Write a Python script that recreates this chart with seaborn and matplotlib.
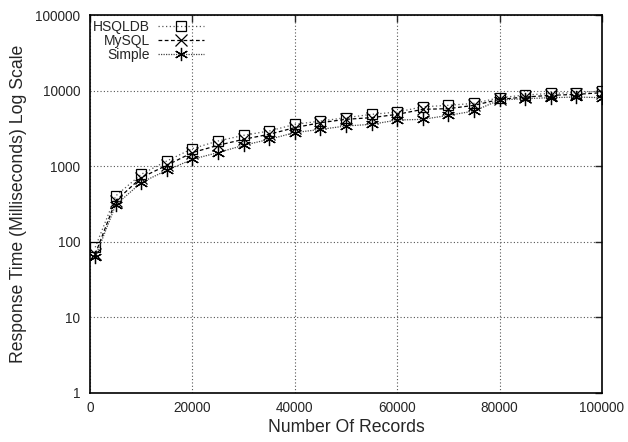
import pandas as pd
import matplotlib
matplotlib.use("Agg")
import matplotlib.pyplot as plt
import seaborn as sns

# Values (log scale, milliseconds)
records = [1000, 5000, 10000, 15000, 20000, 25000, 30000, 35000, 40000, 45000,
           50000, 55000, 60000, 65000, 70000, 75000, 80000, 85000, 90000, 95000, 100000]
hsqldb = [85, 407, 789, 1183, 1725, 2175, 2586, 2950, 3615, 3990,
          4430, 4900, 5260, 6170, 6450, 6850, 8150, 8830, 9290, 9490, 9970]
mysql = [69, 350, 713, 1038, 1528, 1907, 2290, 2670, 3270, 3800,
         4210, 4430, 4900, 5710, 5830, 6450, 7740, 8310, 8750, 9010, 9490]
simple = [63, 310, 612, 891, 1245, 1528, 1907, 2290, 2808, 3100,
          3435, 3615, 4120, 4210, 4750, 5420, 7590, 7900, 8150, 8310, 8150]

df = pd.DataFrame({
    "records": records * 3,
    "time": hsqldb + mysql + simple,
    "engine": ["HSQLDB"] * len(records) + ["MySQL"] * len(records) + ["Simple"] * len(records),
})

sns.set_style("white")
plt.rcParams['font.family'] = ['Liberation Sans', 'DejaVu Sans']

fig = plt.figure(figsize=(6.28, 4.42), dpi=100)
ax = fig.add_axes([0.1435, 0.111, 0.815, 0.854])

styles = {
    "HSQLDB": dict(marker="s", linestyle=(0, (1, 2)), color="#555555",
                   markerfacecolor="none", markeredgecolor="black", markersize=7.5),
    "MySQL": dict(marker="x", linestyle=(0, (3, 2)), color="black",
                  markeredgecolor="black", markersize=8.5),
    "Simple": dict(marker=(6, 2, 0), linestyle=(0, (1, 1)), color="#444444",
                   markeredgecolor="black", markersize=9.5),
}

for name, st in styles.items():
    sub = df[df["engine"] == name]
    sns.lineplot(data=sub, x="records", y="time", ax=ax, label=name,
                 linewidth=0.9, markeredgewidth=0.9, **st)

ax.set_yscale("log")
ax.set_xlim(0, 100000)
ax.set_ylim(1, 100000)
ax.set_xticks([0, 20000, 40000, 60000, 80000, 100000])
ax.set_yticks([1, 10, 100, 1000, 10000, 100000])
ax.set_yticklabels(["1", "10", "100", "1000", "10000", "100000"])
ax.yaxis.set_minor_locator(matplotlib.ticker.NullLocator())

ax.grid(True, linestyle=(0, (1, 2)), color="#555555", linewidth=0.8)
ax.tick_params(direction="in", top=True, right=True, length=5, width=1,
               labelsize=9.8)
ax.tick_params(axis="x", pad=6)
ax.tick_params(axis="y", pad=7)
for sp in ax.spines.values():
    sp.set_linewidth(1.2)
    sp.set_color("black")

ax.set_xlabel("Number Of Records", fontsize=12.7, labelpad=3)
ax.set_ylabel("Response Time (Milliseconds) Log Scale", fontsize=12.7, labelpad=6)

ax.legend(loc="upper left", bbox_to_anchor=(0.0, 0.995), frameon=False,
          markerfirst=False, fontsize=10, handlelength=3.3, handletextpad=0.6,
          labelspacing=0.0, borderpad=0.1, borderaxespad=0.1)

fig.savefig("out.png", dpi=100)
